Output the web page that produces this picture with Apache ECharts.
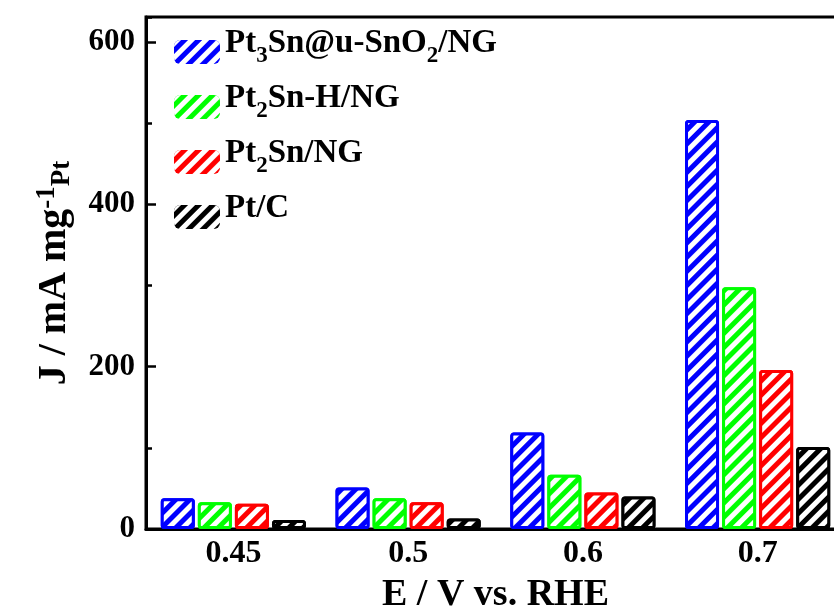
<!DOCTYPE html>
<html>
<head>
<meta charset="utf-8">
<script src="https://cdn.jsdelivr.net/npm/echarts@6/dist/echarts.min.js"></script>
<style>
html,body{margin:0;padding:0;background:#fff;}
#chart{width:834px;height:614px;}
</style>
</head>
<body>
<div id="chart"></div>
<script>
var categories = ['0.45', '0.5', '0.6', '0.7'];
var seriesNames = ['Pt3Sn@u-SnO2/NG', 'Pt2Sn-H/NG', 'Pt2Sn/NG', 'Pt/C'];
var legendLabels = ['Pt{sub|3}Sn@u-SnO{sub|2}/NG', 'Pt{sub|2}Sn-H/NG', 'Pt{sub|2}Sn/NG', 'Pt/C'];
var colors = ['#0000ff', '#00ff00', '#ff0000', '#000000'];
var pt3sn = [38, 51, 119, 504];
var pt2snH = [33, 38, 67, 298];
var pt2sn = [31, 33, 45, 196];
var ptc = [11, 13, 40, 101];
var yTicks = [0, 200, 400, 600];

var dataSets = [pt3sn, pt2snH, pt2sn, ptc];
var FONT = '"Liberation Serif","Times New Roman",serif';

var chart = echarts.init(document.getElementById('chart'), null, {renderer: 'canvas'});

var series = dataSets.map(function (d, i) {
  return {
    name: seriesNames[i],
    type: 'bar',
    data: d,
    yAxisIndex: 0,
    barWidth: 34,
    barGap: '9%',
    itemStyle: {
      color: colors[i],
      borderColor: colors[i],
      borderWidth: 3,
      borderRadius: 2,
      decal: {
        symbol: 'rect',
        symbolSize: 1,
        color: '#ffffff',
        dashArrayX: [[1, 0]],
        dashArrayY: [5, 5],
        rotation: -Math.PI / 4
      }
    },
    emphasis: {disabled: true}
  };
});

var legendMap = {};
seriesNames.forEach(function (n, i) { legendMap[n] = legendLabels[i]; });

chart.setOption({
  animation: false,
  backgroundColor: '#ffffff',
  grid: {left: 146, top: 17, right: -11, bottom: 85, outerBoundsMode: 'none', containLabel: false, show: true, borderColor: '#000', borderWidth: 3, backgroundColor: 'transparent'},
  legend: {
    orient: 'vertical',
    left: 169,
    top: 22,
    itemWidth: 46,
    itemHeight: 24,
    itemGap: 14,
    icon: 'roundRect',
    data: seriesNames,
    formatter: function (n) { return '{m|' + legendMap[n].replace(/\{sub\|(\d)\}/g, '}{sub|$1}{m|') + '}'; },
    textStyle: {
      fontFamily: FONT,
      fontWeight: 'bold',
      fontSize: 33,
      color: '#000',
      rich: {
        m: {fontFamily: FONT, fontWeight: 'bold', fontSize: 33, color: '#000', verticalAlign: 'bottom', padding: [0, 0, 8, 0], lineHeight: 32},
        sub: {fontFamily: FONT, fontWeight: 'bold', fontSize: 23, color: '#000', verticalAlign: 'bottom', lineHeight: 22}
      }
    },
    itemStyle: {borderWidth: 0}
  },
  xAxis: {
    type: 'category',
    data: categories,
    name: 'E / V vs. RHE',
    nameLocation: 'middle',
    nameGap: 39,
    nameTextStyle: {fontFamily: FONT, fontWeight: 'bold', fontSize: 38, color: '#000', lineHeight: 40},
    axisLine: {lineStyle: {color: '#000', width: 3}},
    axisTick: {show: false},
    axisLabel: {fontFamily: FONT, fontWeight: 'bold', fontSize: 32, color: '#000', margin: 9},
    splitLine: {show: false}
  },
  yAxis: [{
    type: 'value',
    min: 0,
    max: 631,
    interval: 200,
    name: '{m|J / mA mg}{sup|-1}{sub|Pt}',
    nameLocation: 'middle',
    nameGap: 70,
    nameTextStyle: {
      rich: {
        m: {fontFamily: FONT, fontWeight: 'bold', fontSize: 40, color: '#000', verticalAlign: 'middle', lineHeight: 42},
        sup: {fontFamily: FONT, fontWeight: 'bold', fontSize: 27, color: '#000', verticalAlign: 'top', lineHeight: 27},
        sub: {fontFamily: FONT, fontWeight: 'bold', fontSize: 27, color: '#000', verticalAlign: 'bottom', lineHeight: 27, padding: [14, 0, 0, 0]}
      }
    },
    axisLine: {show: true, lineStyle: {color: '#000', width: 3}},
    axisTick: {show: true, inside: true, length: 10, lineStyle: {color: '#000', width: 2.5}},
    minorTick: {show: false},
    axisLabel: {fontFamily: FONT, fontWeight: 'bold', fontSize: 31, color: '#000', margin: 11, showMaxLabel: false},
    splitLine: {show: false}
  }, {
    type: 'value',
    position: 'left',
    offset: 0,
    min: 0,
    max: 631,
    interval: 100,
    axisLine: {show: false},
    axisTick: {show: true, inside: true, length: 6, lineStyle: {color: '#000', width: 2.5}},
    axisLabel: {show: false},
    splitLine: {show: false}
  }],
  series: series
});
</script>
</body>
</html>
